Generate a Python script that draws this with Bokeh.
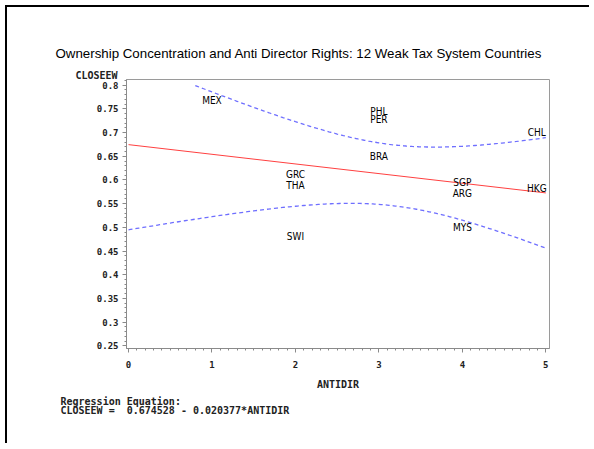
import numpy as np
from bokeh.plotting import figure
from bokeh.models import Title, SingleIntervalTicker, Range1d, ColumnDataSource
from bokeh.core.properties import value
from bokeh.embed import file_html
from bokeh.resources import INLINE

# ---- data ----
countries = ["MEX", "PHL", "PER", "BRA", "GRC", "THA", "SWI", "SGP", "ARG", "MYS", "CHL", "HKG"]
antidir = [1, 3, 3, 3, 2, 2, 2, 4, 4, 4, 5, 5]
closeew = [0.768, 0.744, 0.728, 0.649, 0.612, 0.589, 0.480, 0.595, 0.571, 0.500, 0.700, 0.581]

intercept = 0.674528
slope = -0.020377
root_mse = 0.100          # residual std. error estimated from band width
t_crit = 2.228            # t(0.975, 10)
y_axis_max = 0.8          # SAS clips the band at the axis maximum

title_text = "Ownership Concentration and Anti Director Rights: 12 Weak Tax System Countries"
eq_line1 = "Regression Equation:"
eq_line2 = "CLOSEEW =\u00a0 0.674528 - 0.020377*ANTIDIR"

MONO = "DejaVu Sans Mono"

p = figure(width=584, height=438, output_backend="svg", toolbar_location=None,
           title_location=None,
           x_range=Range1d(-0.024, 5.044), y_range=Range1d(0.2443, 0.812),
           min_border_left=119, min_border_right=42, min_border_top=72, min_border_bottom=97,
           styles={"margin-left": "5px", "margin-top": "5px",
                   "border-left": "2px solid black", "border-top": "2px solid black"})
p.xgrid.visible = False
p.ygrid.visible = False
p.outline_line_color = "#9a9a9a"
p.outline_line_width = 1
p.background_fill_color = "white"
p.border_fill_color = "white"

for ax in (p.xaxis[0], p.yaxis[0]):
    ax.axis_line_color = "#8a8a8a"
    ax.major_tick_line_color = "#8a8a8a"
    ax.minor_tick_line_color = "#8a8a8a"
    ax.major_tick_in = 0
    ax.minor_tick_in = 0
    ax.major_tick_out = 4
    ax.minor_tick_out = 2
    ax.major_label_text_font = MONO
    ax.major_label_text_font_style = "bold"
    ax.major_label_text_font_size = "9px"
    ax.major_label_text_color = "#222222"

p.xaxis.ticker = SingleIntervalTicker(interval=1, num_minor_ticks=10)
p.yaxis.ticker = SingleIntervalTicker(interval=0.05, num_minor_ticks=5)
p.yaxis.major_label_standoff = 4
p.xaxis.major_label_standoff = 8
p.xaxis.axis_label = "ANTIDIR"
p.xaxis.axis_label_text_font = MONO
p.xaxis.axis_label_text_font_style = "bold"
p.xaxis.axis_label_text_font_size = "10px"
p.xaxis.axis_label_text_color = "#222222"
p.xaxis.axis_label_standoff = 8

# regression line and 95% confidence band for the mean
xs = np.array(antidir, dtype=float)
n = len(xs)
xbar = xs.mean()
sxx = ((xs - xbar) ** 2).sum()
xg = np.linspace(0, 5, 201)
fit = intercept + slope * xg
half = t_crit * root_mse * np.sqrt(1.0 / n + (xg - xbar) ** 2 / sxx)
upper = np.where(fit + half <= y_axis_max, fit + half, np.nan)
lower = fit - half

p.line(xg, upper, line_color="#6f6fff", line_width=1.3, line_dash="4 3")
p.line(xg, lower, line_color="#6f6fff", line_width=1.3, line_dash="4 3")
p.line([0, 5], [intercept, intercept + slope * 5], line_color="#ff4040", line_width=1)

src = ColumnDataSource(dict(x=antidir, y=closeew, name=countries,
                            dx=[-9 if a == 5 else 0 for a in antidir]))
p.text(x="x", y="y", text="name", source=src, x_offset="dx",
       text_font=value("DejaVu Sans Condensed"), text_font_size="10px",
       text_align="center", text_baseline="middle", text_color="#000000")

# y-axis name (nearest the frame), then main title above it
p.add_layout(Title(text="CLOSEEW", align="left", offset=-51, standoff=-2,
                   text_font=MONO, text_font_style="bold", text_font_size="10px",
                   text_color="#222222"), "above")
p.add_layout(Title(text=title_text, align="left", offset=-71, standoff=15,
                   text_font="Liberation Sans", text_font_style="normal", text_font_size="13.3px",
                   text_color="black"), "above")
# regression equation below the x axis
p.add_layout(Title(text=eq_line1 + "\n" + eq_line2, align="left", offset=-66, standoff=4,
                   text_font=MONO, text_font_style="bold", text_font_size="10px",
                   text_line_height=0.85, text_color="#222222"), "below")

open("out.html", "w").write(file_html(p, INLINE))
